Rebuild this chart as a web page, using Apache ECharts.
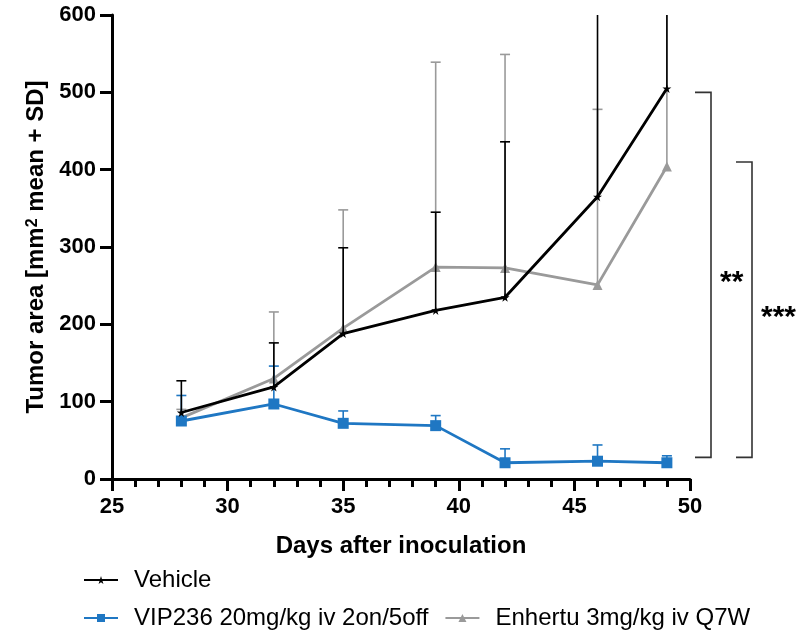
<!DOCTYPE html>
<html>
<head>
<meta charset="utf-8">
<script src="https://cdn.jsdelivr.net/npm/echarts@6/dist/echarts.min.js"></script>
<style>
  html, body { margin: 0; padding: 0; background: #fff; }
  #chart { width: 797px; height: 635px; }
</style>
</head>
<body>
<div id="chart"></div>
<script>
// Tumour growth after inoculation: mean + SD (upper bar only)
const days = [28, 32, 35, 39, 42, 46, 49];

const vehicleMean = [86, 119, 188, 218, 235, 365, 505];
const vehicleTop  = [127, 176, 299, 345, 436, 700, 700];

const vipMean = [75, 97, 72, 69, 21, 23, 21];
const vipTop  = [108, 146, 88, 82, 39, 44, 30];

const enhMean = [79, 130, 195, 274, 273, 251, 404];
const enhTop  = [90, 216, 348, 539, 549, 478, 640];

const xTicks = [25, 30, 35, 40, 45, 50];
const yTicks = [0, 100, 200, 300, 400, 500, 600];

// Significance brackets (vs. Vehicle at the last time point)
const sigLabels = ['**', '***'];
const sigTop    = [500, 410];
const sigBottom = [28, 28];

const FONT = "'Liberation Sans', Arial, Helvetica, sans-serif";
const BLACK = '#000000';
const BLUE = '#1f77c3';
const GRAY = '#9a9a9a';

const STAR = 'path://M50,0 L61,35 L98,35 L68,57 L79,91 L50,70 L21,91 L32,57 L2,35 L39,35 Z';

function errorBars(name, means, tops, color, z) {
  return {
    type: 'custom',
    name: name,
    z: z,
    clip: true,
    silent: true,
    data: days.map((d, i) => [d, means[i], tops[i]]),
    encode: { x: 0, y: [1, 2] },
    renderItem(params, api) {
      const x = api.value(0);
      const p0 = api.coord([x, api.value(1)]);
      const p1 = api.coord([x, api.value(2)]);
      const half = 5;
      const style = { stroke: color, lineWidth: 1.6 };
      return {
        type: 'group',
        children: [
          { type: 'line', shape: { x1: p0[0], y1: p0[1], x2: p1[0], y2: p1[1] }, style: style },
          { type: 'line', shape: { x1: p1[0] - half, y1: p1[1], x2: p1[0] + half, y2: p1[1] }, style: style }
        ]
      };
    }
  };
}

function lineSeries(name, values, color, symbol, size, z) {
  return {
    type: 'line',
    name: name,
    z: z,
    data: days.map((d, i) => [d, values[i]]),
    symbol: symbol,
    symbolSize: size,
    showSymbol: true,
    lineStyle: { color: color, width: 2.8 },
    itemStyle: { color: color },
    emphasis: { disabled: true },
    animation: false
  };
}

const bracketSeries = {
  type: 'custom',
  name: 'significance',
  clip: false,
  silent: true,
  z: 10,
  data: sigTop.map((t, i) => [i, t, sigBottom[i]]),
  renderItem(params, api) {
    const i = api.value(0);
    const cs = params.coordSys;
    const right = cs.x + cs.width;
    const yTop = api.coord([50, api.value(1)])[1];
    const yBot = api.coord([50, api.value(2)])[1];
    const x0 = right + 5 + i * 41;
    const x1 = x0 + 16;
    const style = { stroke: '#333333', lineWidth: 1.6, fill: null };
    return {
      type: 'group',
      children: [
        { type: 'polyline', shape: { points: [[x0, yTop], [x1, yTop], [x1, yBot], [x0, yBot]] }, style: style },
        {
          type: 'text',
          x: x1 + 9,
          y: (yTop + yBot) / 2 + 8,
          style: {
            text: sigLabels[i],
            font: 'bold 30px ' + FONT,
            fill: '#000',
            textAlign: 'left',
            textVerticalAlign: 'middle'
          }
        }
      ]
    };
  }
};

const legendText = { fontFamily: FONT, fontSize: 24, color: '#000', padding: [0, 0, 0, 11] };

const option = {
  animation: false,
  backgroundColor: '#ffffff',
  grid: { left: 112, right: 107, top: 15, bottom: 156, containLabel: false },
  legend: [
    {
      data: ['Vehicle'],
      left: 83, top: 568, padding: 0,
      itemWidth: 34, itemHeight: 10,
      textStyle: legendText,
      selectedMode: false
    },
    {
      data: ['VIP236 20mg/kg iv 2on/5off', 'Enhertu 3mg/kg iv Q7W'],
      left: 83, top: 606, padding: 0,
      itemWidth: 34, itemHeight: 10, itemGap: 16,
      textStyle: legendText,
      selectedMode: false
    }
  ],
  xAxis: {
    type: 'value',
    min: xTicks[0], max: xTicks[xTicks.length - 1], interval: 5,
    name: 'Days after inoculation',
    nameLocation: 'middle',
    nameGap: 55,
    nameTextStyle: { fontFamily: FONT, fontSize: 24, fontWeight: 'bold', color: '#000' },
    axisLine: { onZero: false, lineStyle: { color: '#000', width: 3 } },
    axisTick: { length: 12, lineStyle: { color: '#000', width: 3 } },
    minorTick: { show: true, splitNumber: 5, length: 8, lineStyle: { color: '#000', width: 3 } },
    axisLabel: { margin: 17, fontFamily: FONT, fontSize: 22, fontWeight: 'bold', color: '#000' },
    splitLine: { show: false }
  },
  yAxis: {
    type: 'value',
    min: yTicks[0], max: yTicks[yTicks.length - 1], interval: 100,
    name: 'Tumor area [mm{sup|2} mean + SD]',
    nameLocation: 'middle',
    nameGap: 62,
    nameRotate: 90,
    nameTextStyle: {
      fontFamily: FONT, fontSize: 24, fontWeight: 'bold', color: '#000',
      rich: {
        sup: { fontFamily: FONT, fontSize: 16, fontWeight: 'bold', color: '#000', verticalAlign: 'top', lineHeight: 24 }
      }
    },
    axisLine: { show: true, lineStyle: { color: '#000', width: 3 } },
    axisTick: { show: true, length: 12, lineStyle: { color: '#000', width: 3 } },
    axisLabel: { margin: 16, fontFamily: FONT, fontSize: 22, fontWeight: 'bold', color: '#000' },
    splitLine: { show: false }
  },
  series: [
    errorBars('Enhertu SD', enhMean, enhTop, GRAY, 1),
    lineSeries('Enhertu 3mg/kg iv Q7W', enhMean, GRAY, 'triangle', 10, 2),
    errorBars('VIP236 SD', vipMean, vipTop, BLUE, 3),
    lineSeries('VIP236 20mg/kg iv 2on/5off', vipMean, BLUE, 'rect', 11, 4),
    errorBars('Vehicle SD', vehicleMean, vehicleTop, BLACK, 5),
    lineSeries('Vehicle', vehicleMean, BLACK, STAR, 9, 6),
    bracketSeries
  ]
};

const chart = echarts.init(document.getElementById('chart'));
chart.setOption(option);
</script>
</body>
</html>
